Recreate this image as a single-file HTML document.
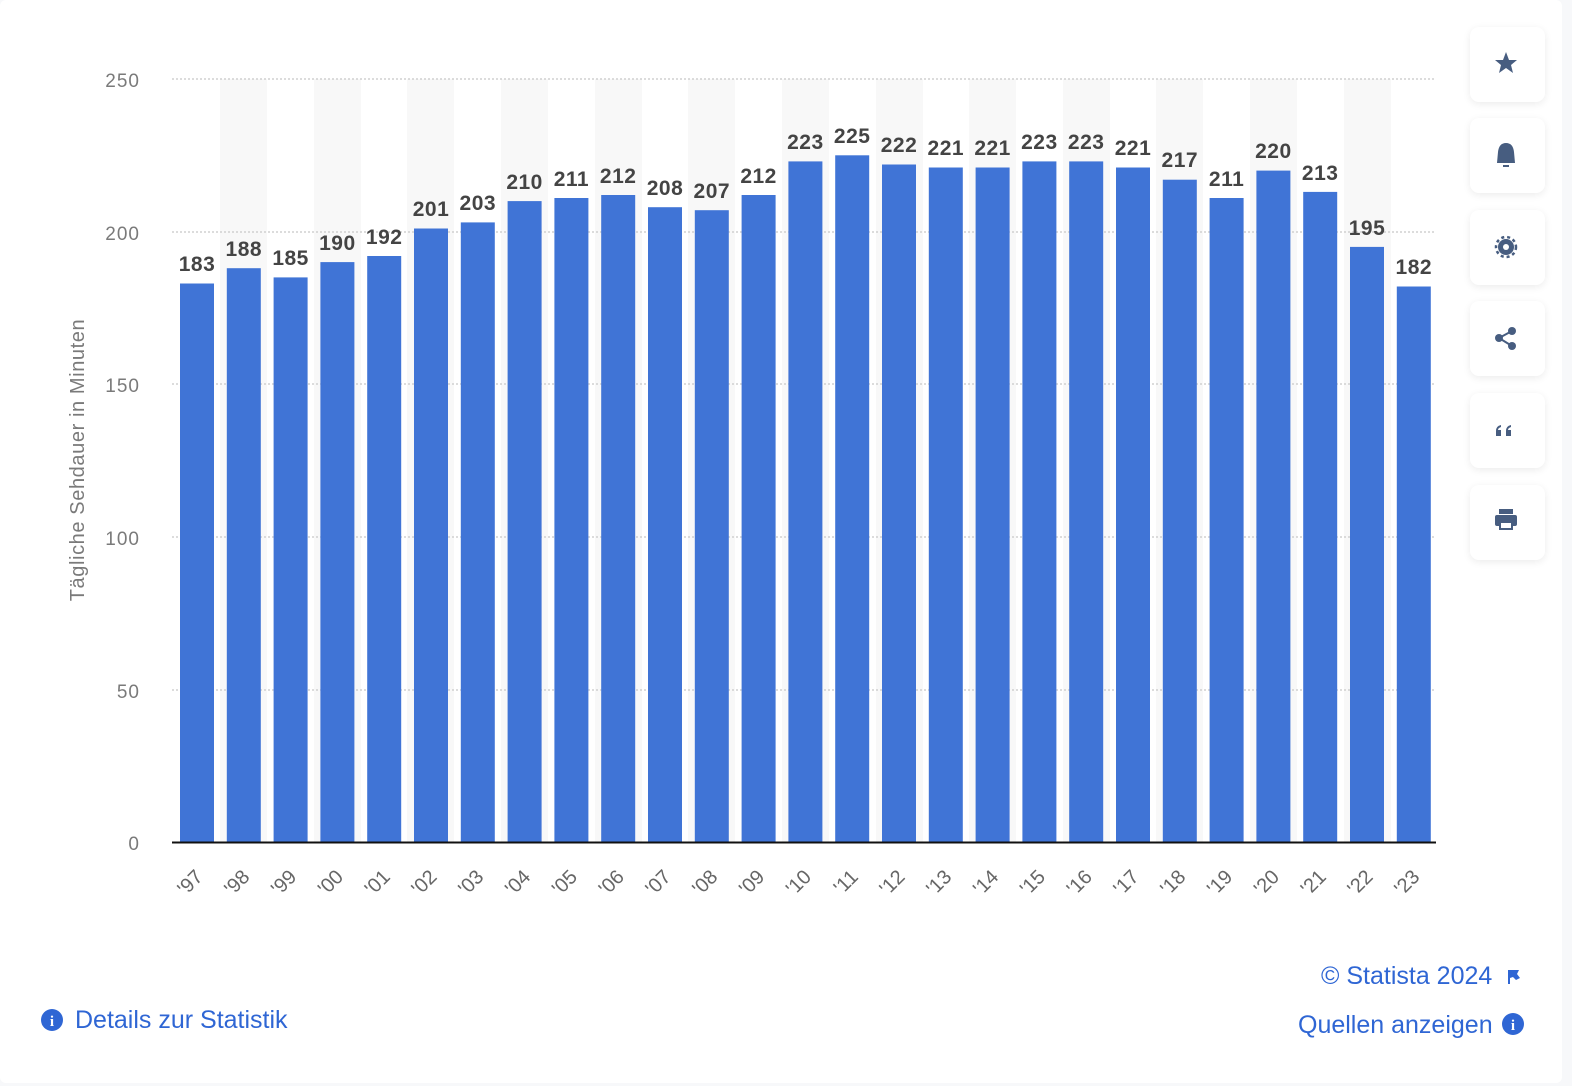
<!DOCTYPE html>
<html><head><meta charset="utf-8"><style>
html,body{margin:0;padding:0;background:#f7f8fa;}
body{width:1572px;height:1086px;overflow:hidden;position:relative;font-family:"Liberation Sans",sans-serif;}
.card{position:absolute;left:0;top:0;width:1562px;height:1083px;background:#fff;border-radius:6px;}
.btn{position:absolute;left:1470px;width:75px;height:75px;background:#fff;border-radius:9px;box-shadow:0 2px 8px rgba(0,0,0,0.08);}
.lnk{position:absolute;color:#2f66d4;font-size:25px;white-space:nowrap;}
</style></head><body>
<div class="card"></div>
<svg width="1572" height="1086" style="position:absolute;left:0;top:0" font-family="Liberation Sans, sans-serif">
<g fill="#f8f8f8">
<rect x="220" y="79" width="47" height="763"/><rect x="314" y="79" width="47" height="763"/><rect x="407" y="79" width="47" height="763"/><rect x="501" y="79" width="47" height="763"/><rect x="595" y="79" width="47" height="763"/><rect x="688" y="79" width="47" height="763"/><rect x="782" y="79" width="47" height="763"/><rect x="876" y="79" width="47" height="763"/><rect x="969" y="79" width="47" height="763"/><rect x="1063" y="79" width="47" height="763"/><rect x="1156" y="79" width="47" height="763"/><rect x="1250" y="79" width="47" height="763"/><rect x="1344" y="79" width="47" height="763"/>
</g>
<g stroke="#c8c8c8" stroke-width="1.2" stroke-dasharray="2,2">
<line x1="172" x2="1436" y1="79" y2="79"/><line x1="172" x2="1436" y1="232" y2="232"/><line x1="172" x2="1436" y1="384" y2="384"/><line x1="172" x2="1436" y1="537" y2="537"/><line x1="172" x2="1436" y1="690" y2="690"/>
</g>
<g fill="#7a7a7a" font-size="19" text-anchor="end" letter-spacing="1">
<text x="140" y="87">250</text><text x="140" y="240">200</text><text x="140" y="392">150</text><text x="140" y="545">100</text><text x="140" y="698">50</text><text x="140" y="850">0</text>
</g>
<text transform="translate(84,460) rotate(-90)" text-anchor="middle" fill="#7a7a7a" font-size="20" letter-spacing="0.6">Tägliche Sehdauer in Minuten</text>
<g fill="#4074d6">
<rect x="180" y="283.5" width="34" height="558.5"/>
<rect x="226.8" y="268.2" width="34" height="573.8"/>
<rect x="273.6" y="277.4" width="34" height="564.6"/>
<rect x="320.4" y="262.1" width="34" height="579.9"/>
<rect x="367.2" y="256" width="34" height="586"/>
<rect x="414" y="228.5" width="34" height="613.5"/>
<rect x="460.8" y="222.4" width="34" height="619.6"/>
<rect x="507.6" y="201.1" width="34" height="640.9"/>
<rect x="554.4" y="198" width="34" height="644"/>
<rect x="601.2" y="195" width="34" height="647"/>
<rect x="648" y="207.2" width="34" height="634.8"/>
<rect x="694.8" y="210.2" width="34" height="631.8"/>
<rect x="741.6" y="195" width="34" height="647"/>
<rect x="788.4" y="161.4" width="34" height="680.6"/>
<rect x="835.2" y="155.3" width="34" height="686.7"/>
<rect x="882" y="164.5" width="34" height="677.5"/>
<rect x="928.8" y="167.5" width="34" height="674.5"/>
<rect x="975.6" y="167.5" width="34" height="674.5"/>
<rect x="1022.4" y="161.4" width="34" height="680.6"/>
<rect x="1069.2" y="161.4" width="34" height="680.6"/>
<rect x="1116" y="167.5" width="34" height="674.5"/>
<rect x="1162.8" y="179.7" width="34" height="662.3"/>
<rect x="1209.6" y="198" width="34" height="644"/>
<rect x="1256.4" y="170.6" width="34" height="671.4"/>
<rect x="1303.2" y="191.9" width="34" height="650.1"/>
<rect x="1350" y="246.9" width="34" height="595.1"/>
<rect x="1396.8" y="286.5" width="34" height="555.5"/>
</g>
<line x1="172" x2="1436" y1="842.5" y2="842.5" stroke="#111" stroke-width="2"/>
<g fill="#444" font-size="21" font-weight="bold" text-anchor="middle" letter-spacing="0.5">
<text x="197" y="271">183</text><text x="243.8" y="256">188</text><text x="290.6" y="265">185</text><text x="337.4" y="250">190</text><text x="384.2" y="244">192</text><text x="431" y="216">201</text><text x="477.8" y="210">203</text><text x="524.6" y="189">210</text><text x="571.4" y="186">211</text><text x="618.2" y="183">212</text><text x="665" y="195">208</text><text x="711.8" y="198">207</text><text x="758.6" y="183">212</text><text x="805.4" y="149">223</text><text x="852.2" y="143">225</text><text x="899" y="152">222</text><text x="945.8" y="155">221</text><text x="992.6" y="155">221</text><text x="1039.4" y="149">223</text><text x="1086.2" y="149">223</text><text x="1133" y="155">221</text><text x="1179.8" y="167">217</text><text x="1226.6" y="186">211</text><text x="1273.4" y="158">220</text><text x="1320.2" y="180">213</text><text x="1367" y="235">195</text><text x="1413.8" y="274">182</text>
</g>
<g fill="#666" font-size="20" text-anchor="end">
<text transform="translate(204,878) rotate(-45)">'97</text>
<text transform="translate(250.8,878) rotate(-45)">'98</text>
<text transform="translate(297.6,878) rotate(-45)">'99</text>
<text transform="translate(344.4,878) rotate(-45)">'00</text>
<text transform="translate(391.2,878) rotate(-45)">'01</text>
<text transform="translate(438,878) rotate(-45)">'02</text>
<text transform="translate(484.8,878) rotate(-45)">'03</text>
<text transform="translate(531.6,878) rotate(-45)">'04</text>
<text transform="translate(578.4,878) rotate(-45)">'05</text>
<text transform="translate(625.2,878) rotate(-45)">'06</text>
<text transform="translate(672,878) rotate(-45)">'07</text>
<text transform="translate(718.8,878) rotate(-45)">'08</text>
<text transform="translate(765.6,878) rotate(-45)">'09</text>
<text transform="translate(812.4,878) rotate(-45)">'10</text>
<text transform="translate(859.2,878) rotate(-45)">'11</text>
<text transform="translate(906,878) rotate(-45)">'12</text>
<text transform="translate(952.8,878) rotate(-45)">'13</text>
<text transform="translate(999.6,878) rotate(-45)">'14</text>
<text transform="translate(1046.4,878) rotate(-45)">'15</text>
<text transform="translate(1093.2,878) rotate(-45)">'16</text>
<text transform="translate(1140,878) rotate(-45)">'17</text>
<text transform="translate(1186.8,878) rotate(-45)">'18</text>
<text transform="translate(1233.6,878) rotate(-45)">'19</text>
<text transform="translate(1280.4,878) rotate(-45)">'20</text>
<text transform="translate(1327.2,878) rotate(-45)">'21</text>
<text transform="translate(1374,878) rotate(-45)">'22</text>
<text transform="translate(1420.8,878) rotate(-45)">'23</text>
</g>
</svg>
<div class="btn" style="top:27px"></div>
<div class="btn" style="top:118px"></div>
<div class="btn" style="top:210px"></div>
<div class="btn" style="top:301px"></div>
<div class="btn" style="top:393px"></div>
<div class="btn" style="top:485px"></div>
<svg width="1572" height="1086" style="position:absolute;left:0;top:0" fill="#475d80">
<polygon points="1506,52 1509,60 1517,60 1511,65 1513,73 1506,68 1499,73 1501,65 1495,60 1503,60"/>
<path d="M1497,163 L1498,152 Q1499,143 1506,143 Q1513,143 1514,152 L1515,163 Z"/><rect x="1503" y="165" width="6" height="2"/>
<circle cx="1506" cy="247" r="8"/><circle cx="1506" cy="247" r="3" fill="#fff"/>
<g stroke="#475d80" stroke-width="2.5" stroke-dasharray="3,3" fill="none"><circle cx="1506" cy="247" r="10"/></g>
<circle cx="1499" cy="338" r="4"/><circle cx="1512" cy="331" r="4"/><circle cx="1512" cy="346" r="4"/>
<path d="M1499,338 L1512,331 M1499,338 L1512,346" stroke="#475d80" stroke-width="2"/>
<path d="M1496,436 v-5 q0,-5 5,-6 v2 q-3,1 -3,3 h3 v6z M1506,436 v-5 q0,-5 5,-6 v2 q-3,1 -3,3 h3 v6z"/>
<rect x="1495" y="515" width="22" height="11" rx="2"/><rect x="1499" y="509" width="14" height="5"/><rect x="1500" y="522" width="12" height="7" fill="#fff" stroke="#475d80" stroke-width="2"/>
<g fill="#2f66d4">
<circle cx="52" cy="1020" r="11"/><circle cx="1513" cy="1024" r="11"/>
<path d="M1508,970 v14 h2 v-6 l3,-1 l3,3 l4,-2 l-3,-4 l2,-4 l-4,0 z"/>
</g>
<g fill="#fff" font-family="Liberation Serif, serif" font-weight="bold" font-size="15" text-anchor="middle"><text x="52" y="1026">i</text><text x="1513" y="1030">i</text></g>
</svg>
<div class="lnk" style="left:75px;top:1006px">Details zur Statistik</div>
<div class="lnk" style="left:1321px;top:962px">© Statista 2024</div>
<div class="lnk" style="left:1298px;top:1011px">Quellen anzeigen</div>
</body></html>
